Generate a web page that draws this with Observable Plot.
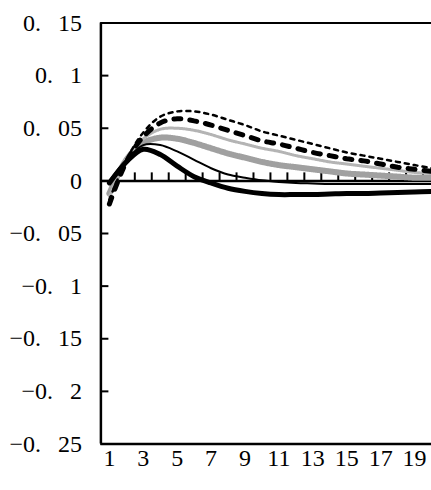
<!DOCTYPE html>
<html><head><meta charset="utf-8">
<script src="https://cdn.jsdelivr.net/npm/d3@7"></script>
<script src="https://cdn.jsdelivr.net/npm/@observablehq/plot@0.6"></script>
<style>body{margin:0;background:#fff} #chart svg{display:block}</style>
</head><body><div id="chart"></div>
<script>
const periods = [1,2,3,4,5,6,7,8,9,10,11,12,13,14,15,16,17,18,19,20];
// thin black short-dash (top)
const seriesA = [-0.018,0.020,0.046,0.061,0.066,0.066,0.063,0.058,0.053,0.047,0.043,0.039,0.035,0.031,0.027,0.024,0.021,0.018,0.015,0.012];
// thick black long-dash
const seriesB = [-0.022,0.018,0.042,0.055,0.059,0.057,0.053,0.048,0.043,0.038,0.035,0.031,0.027,0.024,0.021,0.019,0.016,0.013,0.011,0.009];
// light gray thin
const seriesC = [-0.015,0.020,0.040,0.049,0.050,0.048,0.044,0.039,0.035,0.031,0.028,0.024,0.021,0.018,0.016,0.014,0.012,0.010,0.008,0.007];
// gray thick striped
const seriesD = [-0.012,0.020,0.036,0.041,0.040,0.036,0.031,0.026,0.022,0.018,0.015,0.013,0.011,0.009,0.007,0.006,0.005,0.004,0.003,0.003];
// thin black solid
const seriesE = [0.000,0.020,0.034,0.034,0.028,0.020,0.012,0.006,0.003,0.0005,-0.001,-0.002,-0.0025,-0.003,-0.003,-0.003,-0.003,-0.003,-0.003,-0.003];
// thick black solid
const seriesF = [-0.002,0.018,0.030,0.025,0.014,0.004,-0.002,-0.007,-0.010,-0.012,-0.013,-0.013,-0.013,-0.0125,-0.012,-0.012,-0.0115,-0.011,-0.0105,-0.010];

const yTicks = [0.15,0.1,0.05,0,-0.05,-0.1,-0.15,-0.2,-0.25];
const xTickLabels = [1,3,5,7,9,11,13,15,17,19];
const categoryEdges = [1.5,2.5,3.5,4.5,5.5,6.5,7.5,8.5,9.5,10.5,11.5,12.5,13.5,14.5,15.5,16.5,17.5,18.5,19.5];

const rows = vals => periods.map((p, i) => ({period: p, value: vals[i]}));
const fmtY = d => String(d).replace("-", "\u2212").replace(".", ".\u2002\u2009");

const lineOpts = {x: "period", y: "value", curve: "catmull-rom", strokeLinejoin: "round"};

const chart = Plot.plot({
  width: 431, height: 490,
  marginLeft: 100.4, marginRight: 0, marginTop: 22.5, marginBottom: 46.5,
  style: {fontFamily: "'Liberation Serif', serif", fontSize: "24px", background: "white", color: "black"},
  x: {domain: [0.5, 20]},
  y: {domain: [-0.25, 0.15]},
  marks: [
    Plot.axisY(yTicks, {label: null, tickSize: 0, tickPadding: 19, tickFormat: fmtY}),
    Plot.axisX(xTickLabels, {label: null, tickSize: 0, tickPadding: 5, tickFormat: d => String(d)}),
    // inward y ticks
    Plot.ruleY(yTicks, {y: d => d, x1: 0.5, x2: 0.5, insetRight: -8, stroke: "black", strokeWidth: 2}),
    // zero axis and its category ticks
    Plot.ruleY([0], {stroke: "black", strokeWidth: 2.5}),
    Plot.ruleX(categoryEdges, {x: d => d, y1: 0, y2: 0, insetTop: -8, stroke: "black", strokeWidth: 2}),
    // series
    Plot.line(rows(seriesD), {...lineOpts, stroke: "#a0a0a0", strokeWidth: 6, strokeDasharray: "1 1"}),
    Plot.line(rows(seriesC), {...lineOpts, stroke: "#b4b4b4", strokeWidth: 3, strokeDasharray: "1 1"}),
    Plot.line(rows(seriesF), {...lineOpts, stroke: "black", strokeWidth: 5}),
    Plot.line(rows(seriesE), {...lineOpts, stroke: "black", strokeWidth: 2}),
    Plot.line(rows(seriesB), {...lineOpts, stroke: "black", strokeWidth: 5, strokeDasharray: "7 9", strokeLinejoin: "miter"}),
    Plot.line(rows(seriesA), {...lineOpts, stroke: "black", strokeWidth: 2.5, strokeDasharray: "4 5"}),
    // frame: left, top, bottom
    Plot.ruleX([0.5], {stroke: "black", strokeWidth: 2.5}),
    Plot.ruleY([0.15], {stroke: "black", strokeWidth: 2}),
    Plot.ruleY([-0.25], {stroke: "black", strokeWidth: 2.5})
  ]
});
document.getElementById("chart").appendChild(chart);
</script>
</body></html>
